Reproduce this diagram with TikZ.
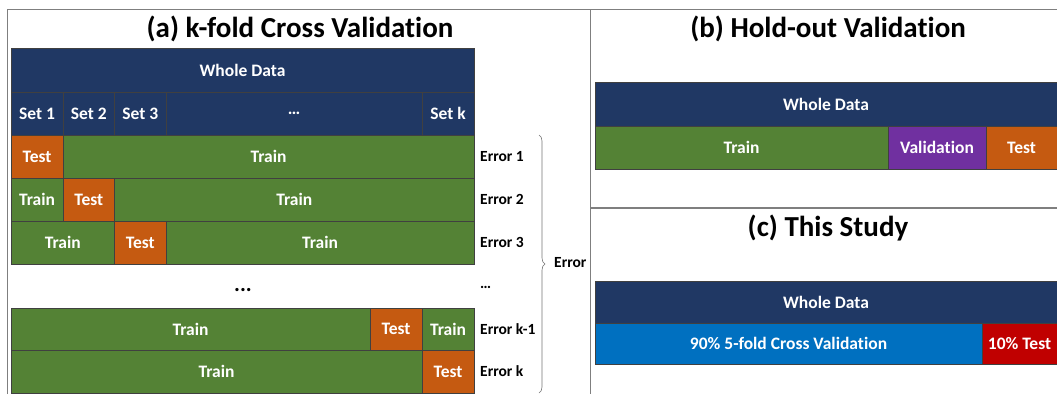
\documentclass[tikz,border=0pt]{standalone}
\usepackage{fontspec}
\setmainfont[Ligatures=NoCommon]{Carlito}
\usetikzlibrary{decorations.pathreplacing}
\definecolor{navy}{HTML}{203864}
\definecolor{grn}{HTML}{548235}
\definecolor{org}{HTML}{C55A11}
\definecolor{purp}{HTML}{7030A0}
\definecolor{cvblue}{HTML}{0070C0}
\definecolor{tred}{HTML}{C00000}
\definecolor{frame}{HTML}{7F7F7F}
\tikzset{
  cell/.style={draw=black!75, line width=0.7pt, anchor=north west, inner sep=0pt, outer sep=0pt,
    text=white, font=\fontsize{17.5}{20}\selectfont\bfseries},
  errlbl/.style={anchor=west, inner sep=0pt, font=\fontsize{15.5}{18}\selectfont\bfseries},
  ttl/.style={inner sep=0pt, font=\fontsize{29}{33}\selectfont\bfseries},
  framel/.style={draw=frame, line width=1.3pt}
}
\newcommand{\mycell}[7]{%
  \node[cell, fill=#6, minimum width={#4-#2}, minimum height={#5-#3}] (#1) at (#2,#3) {#7};}
\begin{document}
\begin{tikzpicture}[x=1pt,y=-1pt]
\useasboundingbox (0,0) rectangle (1057,394);
% frame
\coordinate (fTL) at (7.5,9.5);
\coordinate (fBL) at (7.5,394);
\coordinate (fTR) at (1057,9.5);
\coordinate (dT) at (590.5,9.5);
\coordinate (dB) at (590.5,394);
\coordinate (hL) at (590.5,208);
\coordinate (hR) at (1057,208);
\draw[framel] (fBL) -- (fTL) -- (fTR);
\draw[framel] (dT) -- (dB);
\draw[framel] (hL) -- (hR);
% (a)
\node[ttl] (ta) at (300,29) {(a) k-fold Cross Validation};
\mycell{wa}{11}{48}{474}{92}{navy}{Whole Data}
\mycell{s1}{11}{92}{63}{135}{navy}{Set 1}
\mycell{s2}{63}{92}{114.5}{135}{navy}{Set 2}
\mycell{s3}{114.5}{92}{166}{135}{navy}{Set 3}
\mycell{sd}{166}{92}{422}{135}{navy}{…}
\mycell{sk}{422}{92}{474}{135}{navy}{Set k}
% row 1
\mycell{r1a}{11}{135}{63}{178}{org}{Test}
\mycell{r1b}{63}{135}{474}{178}{grn}{Train}
% row 2
\mycell{r2a}{11}{178}{63}{221}{grn}{Train}
\mycell{r2b}{63}{178}{114.5}{221}{org}{Test}
\mycell{r2c}{114.5}{178}{474}{221}{grn}{Train}
% row 3
\mycell{r3a}{11}{221}{114.5}{264}{grn}{Train}
\mycell{r3b}{114.5}{221}{166}{264}{org}{Test}
\mycell{r3c}{166}{221}{474}{264}{grn}{Train}
% dots
\node[inner sep=0pt, font=\fontsize{22}{24}\selectfont\bfseries] (dots) at (243,290) {...};
% row k-1
\mycell{r4a}{11}{308}{370}{350}{grn}{Train}
\mycell{r4b}{370}{308}{422}{350}{org}{Test}
\mycell{r4c}{422}{308}{474}{350}{grn}{Train}
% row k
\mycell{r5a}{11}{350}{422}{393}{grn}{Train}
\mycell{r5b}{422}{350}{474}{393}{org}{Test}
% errors
\node[errlbl] (e1) at (480,156.5) {Error 1};
\node[errlbl] (e2) at (480,199.5) {Error 2};
\node[errlbl] (e3) at (480,242.5) {Error 3};
\node[errlbl] (ed) at (480,287) {…};
\node[errlbl] (e4) at (480,329) {Error k-1};
\node[errlbl] (e5) at (480,371.5) {Error k};
\coordinate (bt) at (539,135);
\coordinate (bb) at (539,393);
\draw[draw=black!55, line width=0.6pt, decorate, decoration={brace, amplitude=6pt}] (bt) -- (bb);
\node[errlbl] (err) at (554,263) {Error};
% (b)
\node[ttl] (tb) at (828,29) {(b) Hold-out Validation};
\mycell{wb}{595}{82}{1057}{126}{navy}{Whole Data}
\mycell{b1}{595}{126}{888}{169}{grn}{Train}
\mycell{b2}{888}{126}{986}{169}{purp}{Validation}
\mycell{b3}{986}{126}{1057}{169}{org}{Test}
% (c)
\node[ttl] (tc) at (828,228) {(c) This Study};
\mycell{wc}{595}{281}{1057}{323}{navy}{Whole Data}
\mycell{c1}{595}{323}{982}{364}{cvblue}{90\% 5-fold Cross Validation}
\mycell{c2}{982}{323}{1057}{364}{tred}{10\% Test}
\end{tikzpicture}
\end{document}
